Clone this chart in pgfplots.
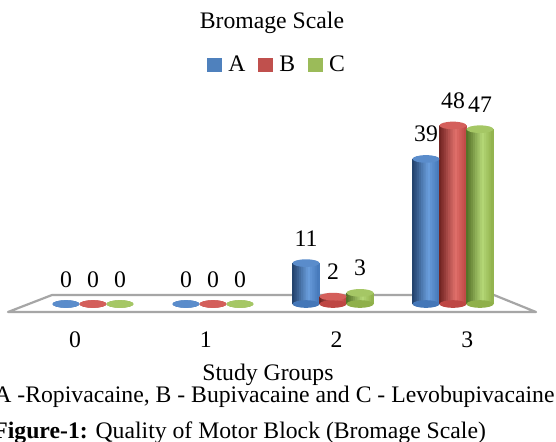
\documentclass[border=0pt]{standalone}
\usepackage{pgfplots}
\pgfplotsset{compat=1.18}
\usepackage{pgfplotstable}
\usepackage{fontspec}
\setmainfont{Liberation Serif}

\definecolor{Abase}{HTML}{4477B8}
\definecolor{Adark}{HTML}{1F3D66}
\definecolor{Alight}{HTML}{6A9EDD}
\definecolor{Atop}{HTML}{5A8CCB}
\definecolor{Aleg}{HTML}{4F81BD}
\definecolor{Bbase}{HTML}{BE4744}
\definecolor{Bdark}{HTML}{6B1F1E}
\definecolor{Blight}{HTML}{E0706B}
\definecolor{Btop}{HTML}{D45F5B}
\definecolor{Bleg}{HTML}{C0504D}
\definecolor{Cbase}{HTML}{8FB04A}
\definecolor{Cdark}{HTML}{4F6B22}
\definecolor{Clight}{HTML}{B5D878}
\definecolor{Ctop}{HTML}{A5C765}
\definecolor{Cleg}{HTML}{9BBB59}
\definecolor{floorgray}{HTML}{A6A6A6}

\pgfdeclareplotmark{cylcap}{\pgfpathellipse{\pgfpointorigin}{\pgfqpoint{6.75pt}{0pt}}{\pgfqpoint{0pt}{1.9pt}}\pgfusepathqfill}

\pgfplotstableread{
x A B C
0 0 0 0
1 0 0 0
2 11 2 3
3 39 48 47
}\datatable

\newcommand{\fs}{\fontsize{11.85}{14.2}\selectfont}

% one vertical strip of a cylinder bar: #1 column, #2 shift, #3 colour
\newcommand{\strip}[3]{%
  \addplot[forget plot, ybar, bar width=0.024, bar shift={#2}, draw=none, fill=#3,
    y filter/.expression={y==0 ? nan : y}] table[x=x, y=#1] {\datatable};}
% cylinder bars of one series: #1 column, #2 centre shift, #3 prefix of colours
\newcommand{\cyl}[3]{%
  \strip{#1}{#2-0.103125}{#3light!7!#3dark}
  \strip{#1}{#2-0.084375}{#3light!21!#3dark}
  \strip{#1}{#2-0.065625}{#3light!35!#3dark}
  \strip{#1}{#2-0.046875}{#3light!49!#3dark}
  \strip{#1}{#2-0.028125}{#3light!62!#3dark}
  \strip{#1}{#2-0.009375}{#3light!76!#3dark}
  \strip{#1}{#2+0.009375}{#3light!90!#3dark}
  \strip{#1}{#2+0.028125}{#3base!6!#3light}
  \strip{#1}{#2+0.046875}{#3base!27!#3light}
  \strip{#1}{#2+0.065625}{#3base!48!#3light}
  \strip{#1}{#2+0.084375}{#3base!69!#3light}
  \strip{#1}{#2+0.103125}{#3base!90!#3light}}

\begin{document}
\begin{tikzpicture}[font=\fs]
\begin{scope}[x=0.5pt,y=-0.5pt]
\fill[white] (0,0) rectangle (556,441);
\draw[floorgray, line width=1.1pt, line join=round, fill=white] (8,312) -- (536,312) -- (494,295) -- (52,295) -- cycle;
\end{scope}
\begin{axis}[
  at={(4.5pt,-152pt)}, anchor=south west,
  scale only axis, width=264pt, height=102.3pt,
  xmin=-0.7, xmax=3.7, ymin=0, ymax=55,
  clip=false,
  axis line style={draw=none},
  major tick length=0pt,
  tick style={draw=none},
  ytick=\empty,
  xtick={-0.15,0.94,2.03,3.12}, xticklabels={0,1,2,3},
  xticklabel style={anchor=base, yshift=-21.5pt, font=\fs},
  /pgf/number format/assume math mode=true,
  title={Bromage Scale},
  every axis title shift=0pt,
  title style={at={(axis description cs:0.498,1.349)}, anchor=base, font=\fs, inner sep=0pt},
  xlabel={Study Groups},
  xlabel style={at={(axis description cs:0.4905,-0.3715)}, anchor=base, font=\fs, inner sep=0pt},
  legend columns=-1,
  legend style={at={(axis description cs:0.3635,1.168)}, anchor=west, draw=none, fill=none, font=\fs,
    nodes={inner sep=0pt},
    /tikz/every odd column/.append style={column sep=3pt},
    /tikz/every even column/.append style={column sep=6.5pt}},
  legend image code/.code={\fill[#1] (0pt,-3.5pt) rectangle (7.5pt,3.5pt);},
  every node near coord/.append style={anchor=base, yshift=8.5pt, font=\fs, text=black},
]
\addlegendimage{fill=Aleg, draw=none}\addlegendentry{A}
\addlegendimage{fill=Bleg, draw=none}\addlegendentry{B}
\addlegendimage{fill=Cleg, draw=none}\addlegendentry{C}

% Series A
\addplot[forget plot, only marks, mark=cylcap, mark options={fill=Abase, draw=none}] table[x expr=\thisrow{x}-0.225, y expr=0] {\datatable};
\cyl{A}{-0.225}{A}
\addplot[forget plot, only marks, mark=cylcap, mark options={fill=Atop, draw=none}, nodes near coords] table[x expr=\thisrow{x}-0.225, y=A] {\datatable};

% Series B
\addplot[forget plot, only marks, mark=cylcap, mark options={fill=Bbase, draw=none}] table[x=x, y expr=0] {\datatable};
\cyl{B}{0}{B}
\addplot[forget plot, only marks, mark=cylcap, mark options={fill=Btop, draw=none}, nodes near coords] table[x=x, y=B] {\datatable};

% Series C
\addplot[forget plot, only marks, mark=cylcap, mark options={fill=Cbase, draw=none}] table[x expr=\thisrow{x}+0.225, y expr=0] {\datatable};
\cyl{C}{0.225}{C}
\addplot[forget plot, only marks, mark=cylcap, mark options={fill=Ctop, draw=none}, nodes near coords] table[x expr=\thisrow{x}+0.225, y=C] {\datatable};
\end{axis}
\node[anchor=base west, inner sep=0pt] at (-3pt,-201pt) {A -Ropivacaine, B - Bupivacaine and C - Levobupivacaine};
\node[anchor=base west, inner sep=0pt] at (-3.5pt,-219pt) {\textbf{Figure-1:} Quality of Motor Block (Bromage Scale)};
\pgfresetboundingbox
\useasboundingbox (0pt,0pt) rectangle (278pt,-220.5pt);
\end{tikzpicture}
\end{document}
